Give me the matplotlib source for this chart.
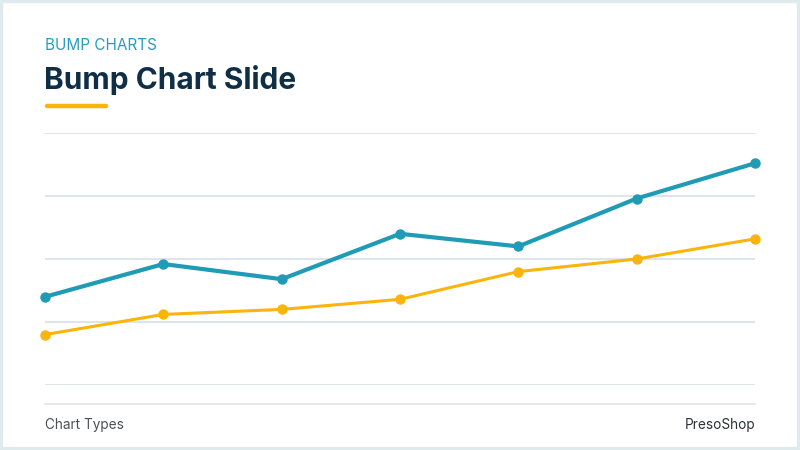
import matplotlib.pyplot as plt
from matplotlib.patches import Rectangle
from matplotlib.lines import Line2D

plt.rcParams['font.family'] = ['Inter', 'DejaVu Sans']

# data
periods = [1, 2, 3, 4, 5, 6, 7]
series_a = [35, 48, 42, 60, 55, 74, 88]
series_b = [20, 28, 30, 34, 45, 50, 58]
y_ticks = [0, 25, 50, 75, 100]

BLUE = '#1f9bb6'
ORANGE = '#fbb40b'
NAVY = '#0f2f47'
TEAL = '#2a9cbd'
GRID = '#dde4ea'
BORDER = '#dfeaed'

W, H = 800, 450
fig = plt.figure(figsize=(8, 4.5), dpi=100)
fig.patch.set_facecolor('white')

# outer frame
fig.patches.append(Rectangle((0, 0), 1, 1, transform=fig.transFigure,
                             facecolor='none', edgecolor=BORDER, linewidth=4.5, zorder=0))

def fx(px):
    return px / W

def fy(py):
    return 1 - py / H

# header
fig.text(fx(45), fy(46), 'BUMP CHARTS', ha='left', va='center',
         fontsize=11, color=TEAL)
fig.text(fx(44), fy(80), 'Bump Chart Slide', ha='left', va='center',
         fontsize=21.5, fontweight='bold', color=NAVY)
fig.lines.append(Line2D([fx(47), fx(106)], [fy(106), fy(106)], transform=fig.transFigure,
                        color=ORANGE, linewidth=3.2, solid_capstyle='round'))

# chart area
ax = fig.add_axes([fx(45), fy(385), fx(755) - fx(45), fy(133) - fy(385)])
ax.set_xlim(periods[0], periods[-1])
ax.set_ylim(y_ticks[0], y_ticks[-1])
ax.set_yticks(y_ticks)
ax.set_xticks([])
ax.tick_params(axis='y', length=0, labelleft=False)
for s in ax.spines.values():
    s.set_visible(False)
ax.grid(axis='y', color=GRID, linewidth=1.4)
ax.set_axisbelow(True)
ax.set_facecolor('none')

ax.plot(periods, series_a, '-o', color=BLUE, linewidth=3.0, markersize=6.5,
        clip_on=False, zorder=3)
ax.plot(periods, series_b, '-o', color=ORANGE, linewidth=2.2, markersize=6.5,
        clip_on=False, zorder=3)

# footer
fig.lines.append(Line2D([fx(45), fx(755)], [fy(404), fy(404)], transform=fig.transFigure,
                        color=GRID, linewidth=1.2))
fig.text(fx(45), fy(425), 'Chart Types', ha='left', va='center', fontsize=9.8, color='#4a5058')
fig.text(fx(755), fy(425), 'PresoShop', ha='right', va='center', fontsize=9.8, color='#2b3138')

fig.savefig('out.png', dpi=100, facecolor='white')
